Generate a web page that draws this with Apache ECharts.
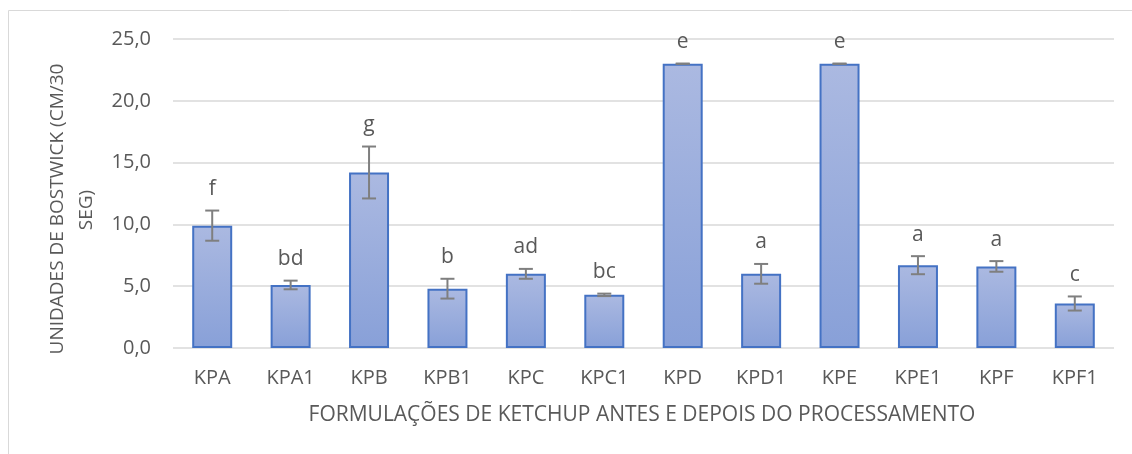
<!DOCTYPE html>
<html>
<head>
<meta charset="utf-8">
<script src="https://cdn.jsdelivr.net/npm/echarts@6/dist/echarts.min.js"></script>
<style>
html, body { margin: 0; padding: 0; background: #fff; }
#chart { width: 1132px; height: 454px; }
</style>
</head>
<body>
<div id="chart"></div>
<script>
// data
const categories = ['KPA', 'KPA1', 'KPB', 'KPB1', 'KPC', 'KPC1', 'KPD', 'KPD1', 'KPE', 'KPE1', 'KPF', 'KPF1']
const meanValues = [9.9, 5.1, 14.2, 4.8, 6.0, 4.3, 23.0, 6.0, 23.0, 6.7, 6.6, 3.6]
const errorValues = [1.22, 0.35, 2.1, 0.8, 0.4, 0.1, 0, 0.8, 0, 0.73, 0.43, 0.57]
const groupLetters = ['f', 'bd', 'g', 'b', 'ad', 'bc', 'e', 'a', 'e', 'a', 'a', 'c']
const yTicks = [0, 5, 10, 15, 20, 25]

const textGray = '#595959'
const fontName = 'Open Sans'

const chart = echarts.init(document.getElementById('chart'))

const options = {
    animation: false,
    grid: { left: 173, right: 18, top: 39, bottom: 106 },
    xAxis: {
        type: 'category',
        data: categories,
        axisLine: { show: false },
        axisTick: { show: false },
        axisLabel: { color: textGray, fontFamily: fontName, fontSize: 20, margin: 20 }
    },
    yAxis: {
        type: 'value',
        min: yTicks[0],
        max: yTicks[yTicks.length - 1],
        interval: 5,
        axisLine: { show: false },
        axisTick: { show: false },
        splitLine: { lineStyle: { color: '#d9d9d9', width: 1.5 } },
        axisLabel: {
            color: textGray, fontFamily: fontName, fontSize: 20, margin: 22,
            formatter: (v) => v.toFixed(1).replace('.', ',')
        }
    },
    series: [
        {
            type: 'bar',
            data: meanValues,
            barWidth: '51%',
            itemStyle: {
                color: new echarts.graphic.LinearGradient(0, 0, 0, 1, [
                    { offset: 0, color: '#abb9e1' },
                    { offset: 1, color: '#88a0d8' }
                ]),
                borderColor: '#4472c4',
                borderWidth: 2
            }
        },
        {
            type: 'custom',
            data: categories.map((c, i) => [i, meanValues[i], errorValues[i]]),
            z: 5,
            renderItem: (params, api) => {
                const i = api.value(0)
                const v = api.value(1)
                const e = api.value(2)
                const hi = api.coord([i, v + e])
                const lo = api.coord([i, v - e])
                const x = hi[0]
                const cap = 7
                const st = { stroke: '#7f7f7f', lineWidth: 2 }
                return {
                    type: 'group',
                    children: [
                        { type: 'line', shape: { x1: x, y1: hi[1], x2: x, y2: lo[1] }, style: st },
                        { type: 'line', shape: { x1: x - cap, y1: hi[1], x2: x + cap, y2: hi[1] }, style: st },
                        { type: 'line', shape: { x1: x - cap, y1: lo[1], x2: x + cap, y2: lo[1] }, style: st },
                        {
                            type: 'text',
                            style: {
                                x: x, y: hi[1] - 11,
                                text: groupLetters[params.dataIndex],
                                fill: textGray,
                                font: '21px "Open Sans"',
                                align: 'center',
                                verticalAlign: 'bottom'
                            }
                        }
                    ]
                }
            }
        }
    ],
    graphic: [
        {
            type: 'rect',
            shape: { x: 8.5, y: 10.5, width: 1300, height: 1000 },
            style: { fill: 'none', stroke: '#d9d9d9', lineWidth: 1 },
            silent: true
        },
        {
            type: 'text',
            x: 58, y: 209,
            rotation: Math.PI / 2,
            style: {
                text: 'UNIDADES DE BOSTWICK (CM/30',
                fill: textGray, font: '19px "Open Sans"',
                align: 'center', verticalAlign: 'middle'
            }
        },
        {
            type: 'text',
            x: 87, y: 210,
            rotation: Math.PI / 2,
            style: {
                text: 'SEG)',
                fill: textGray, font: '19px "Open Sans"',
                align: 'center', verticalAlign: 'middle'
            }
        },
        {
            type: 'text',
            x: 642, y: 415,
            style: {
                text: 'FORMULAÇÕES DE KETCHUP ANTES E DEPOIS DO PROCESSAMENTO',
                fill: textGray, font: '21px "Open Sans"',
                align: 'center', verticalAlign: 'middle'
            }
        }
    ]
}

chart.setOption(options)
</script>
</body>
</html>
